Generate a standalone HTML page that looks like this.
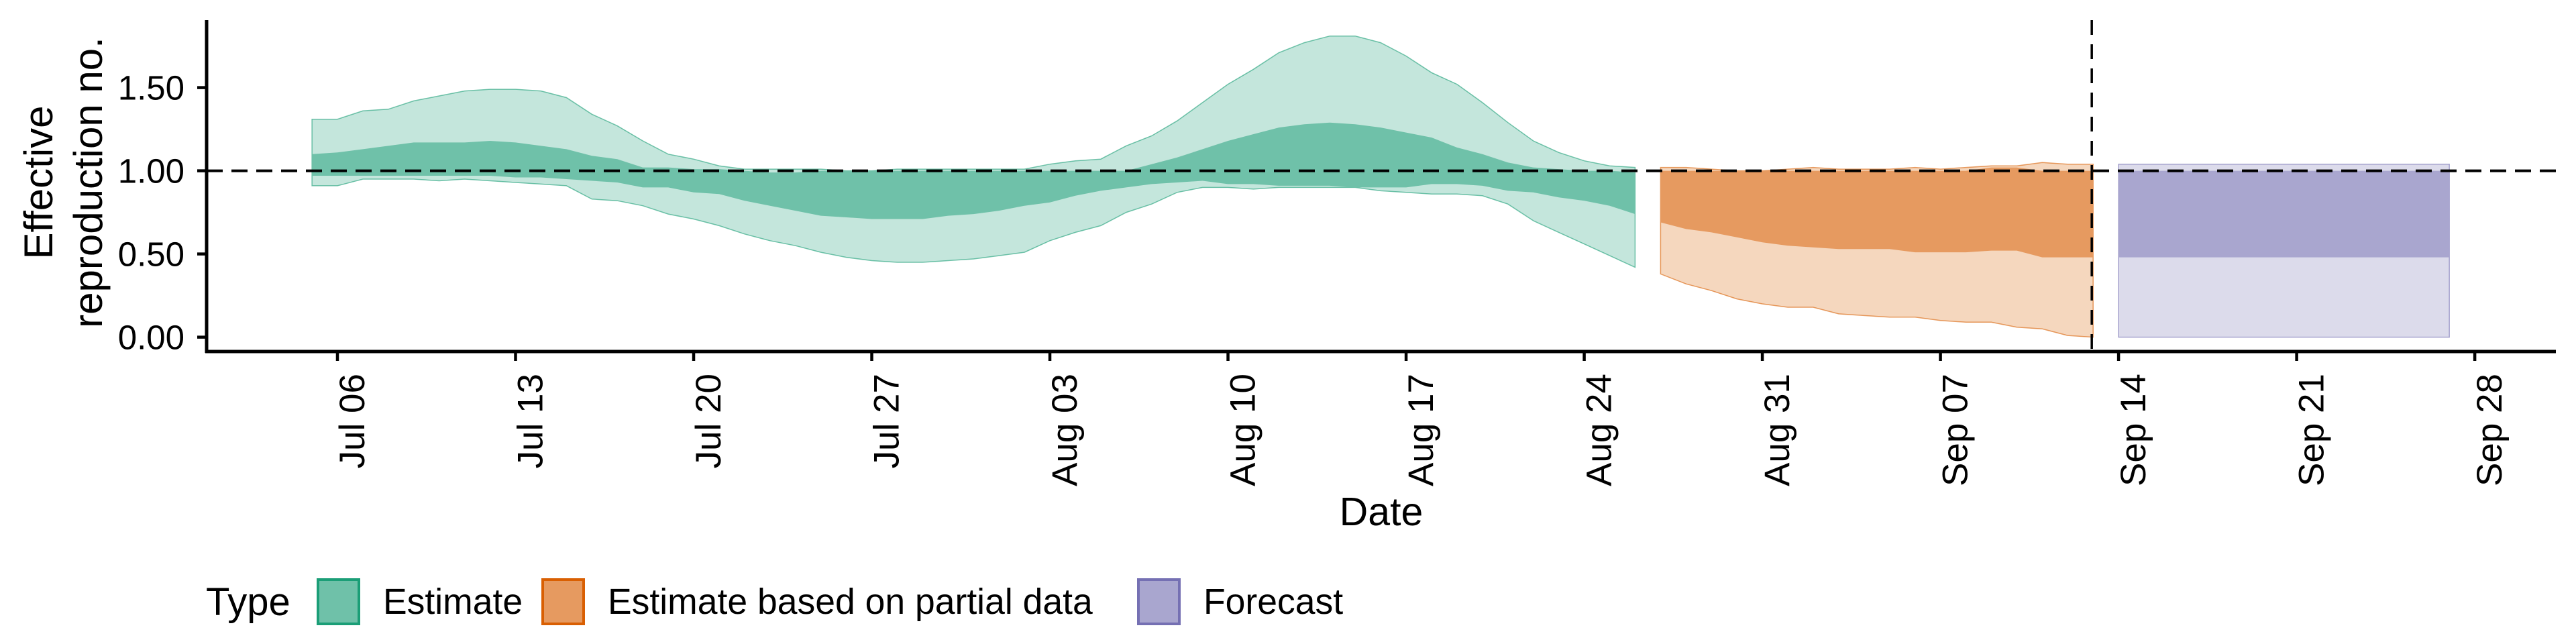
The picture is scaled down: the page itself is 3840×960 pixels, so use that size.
<!DOCTYPE html>
<html><head><meta charset="utf-8">
<style>
html,body{margin:0;padding:0;background:#fff;}
svg{display:block;font-family:"Liberation Sans",Arial,sans-serif;}
</style></head>
<body>
<svg id="chart" width="3840" height="960" viewBox="0 0 3840 960">
<g id="ribbons"></g>
<g id="axes"></g>
<g id="legend"></g>
</svg>
<script>
const estDates = ["07-05","07-06","07-07","07-08","07-09","07-10","07-11","07-12","07-13","07-14","07-15","07-16","07-17","07-18","07-19","07-20","07-21","07-22","07-23","07-24","07-25","07-26","07-27","07-28","07-29","07-30","07-31","08-01","08-02","08-03","08-04","08-05","08-06","08-07","08-08","08-09","08-10","08-11","08-12","08-13","08-14","08-15","08-16","08-17","08-18","08-19","08-20","08-21","08-22","08-23","08-24","08-25","08-26"];
const estUpper90 = [1.31,1.31,1.36,1.37,1.42,1.45,1.48,1.49,1.49,1.48,1.44,1.34,1.27,1.18,1.10,1.07,1.03,1.01,1.01,1.01,1.01,1.00,1.00,1.01,1.01,1.01,1.01,1.01,1.01,1.04,1.06,1.07,1.15,1.21,1.30,1.41,1.52,1.61,1.71,1.77,1.81,1.81,1.77,1.69,1.59,1.52,1.41,1.29,1.18,1.11,1.06,1.03,1.02];
const estUpper50 = [1.10,1.11,1.13,1.15,1.17,1.17,1.17,1.18,1.17,1.15,1.13,1.09,1.07,1.02,1.02,1.01,1.01,1.00,0.99,0.99,1.00,1.00,1.00,1.00,1.00,1.00,1.00,1.00,1.00,1.00,1.00,1.00,1.00,1.04,1.08,1.13,1.18,1.22,1.26,1.28,1.29,1.28,1.26,1.23,1.20,1.14,1.10,1.05,1.02,1.01,1.00,1.00,0.99];
const estLower50 = [0.97,0.97,0.97,0.97,0.97,0.97,0.97,0.97,0.96,0.96,0.95,0.94,0.93,0.90,0.90,0.87,0.86,0.82,0.79,0.76,0.73,0.72,0.71,0.71,0.71,0.73,0.74,0.76,0.79,0.81,0.85,0.88,0.90,0.92,0.93,0.94,0.92,0.92,0.91,0.91,0.91,0.90,0.90,0.90,0.92,0.92,0.91,0.88,0.87,0.84,0.82,0.79,0.74];
const estLower90 = [0.91,0.91,0.95,0.95,0.95,0.94,0.95,0.94,0.93,0.92,0.91,0.83,0.82,0.79,0.74,0.71,0.67,0.62,0.58,0.55,0.51,0.48,0.46,0.45,0.45,0.46,0.47,0.49,0.51,0.58,0.63,0.67,0.75,0.80,0.87,0.90,0.90,0.89,0.90,0.90,0.90,0.90,0.88,0.87,0.86,0.86,0.85,0.80,0.70,0.63,0.56,0.49,0.42];

const partDates = ["08-27","08-28","08-29","08-30","08-31","09-01","09-02","09-03","09-04","09-05","09-06","09-07","09-08","09-09","09-10","09-11","09-12","09-13"];
const partUpper90 = [1.02,1.02,1.01,1.00,1.00,1.01,1.02,1.01,1.01,1.01,1.02,1.01,1.02,1.03,1.03,1.05,1.04,1.04];
const partUpper50 = [1.00,1.00,1.00,1.00,1.00,1.00,1.00,1.00,1.00,1.00,1.00,1.00,1.00,1.02,1.02,1.00,1.00,1.00];
const partLower50 = [0.69,0.65,0.63,0.60,0.57,0.55,0.54,0.53,0.53,0.53,0.51,0.51,0.51,0.52,0.52,0.48,0.48,0.48];
const partLower90 = [0.38,0.32,0.28,0.23,0.20,0.18,0.18,0.14,0.13,0.12,0.12,0.10,0.09,0.09,0.06,0.05,0.01,0.00];

const fcDates = ["09-14","09-15","09-16","09-17","09-18","09-19","09-20","09-21","09-22","09-23","09-24","09-25","09-26","09-27"];
const fcUpper90 = [1.04,1.04,1.04,1.04,1.04,1.04,1.04,1.04,1.04,1.04,1.04,1.04,1.04,1.04];
const fcUpper50 = [1.00,1.00,1.00,1.00,1.00,1.00,1.00,1.00,1.00,1.00,1.00,1.00,1.00,1.00];
const fcLower50 = [0.48,0.48,0.48,0.48,0.48,0.48,0.48,0.48,0.48,0.48,0.48,0.48,0.48,0.48];
const fcLower90 = [0.00,0.00,0.00,0.00,0.00,0.00,0.00,0.00,0.00,0.00,0.00,0.00,0.00,0.00];

const xTickDates = ["07-06","07-13","07-20","07-27","08-03","08-10","08-17","08-24","08-31","09-07","09-14","09-21","09-28"];
const xTickLabels = ["Jul 06","Jul 13","Jul 20","Jul 27","Aug 03","Aug 10","Aug 17","Aug 24","Aug 31","Sep 07","Sep 14","Sep 21","Sep 28"];
const yTicks = [0, 0.5, 1.0, 1.5];
const yTickLabels = ["0.00","0.50","1.00","1.50"];
const refValue = 1.0;
const cutoffDate = "09-13";

const NS = "http://www.w3.org/2000/svg";
const X0 = 503, PX_PER_DAY = 37.93, Y0 = 502.6, PX_PER_UNIT = 248;
const AX_L = 308, AX_R = 3810, AX_T = 30, AX_B = 524;
function dayOf(md){const [m,d]=md.split("-").map(Number);return (Date.UTC(2020,m-1,d)-Date.UTC(2020,6,6))/86400000;}
function xScale(md){return X0 + dayOf(md)*PX_PER_DAY;}
function yScale(v){return Y0 - v*PX_PER_UNIT;}
function mk(tag, attrs, parent){const e=document.createElementNS(NS,tag);for(const k in attrs)e.setAttribute(k,attrs[k]);parent.appendChild(e);return e;}

const rib = document.getElementById("ribbons");
function ribbon(dates, up, lo, fill, stroke, name, step){
  let pts=[];
  if(step){
    const xa = xScale(dates[0]), xb = xScale(dates[dates.length-1]);
    pts.push([xa,yScale(up[0])],[xb,yScale(up[up.length-1])],[xb,yScale(lo[lo.length-1])],[xa,yScale(lo[0])]);
  } else {
    for(let i=0;i<dates.length;i++) pts.push([xScale(dates[i]),yScale(up[i])]);
    for(let i=dates.length-1;i>=0;i--) pts.push([xScale(dates[i]),yScale(lo[i])]);
  }
  const p = mk("polygon",{points:pts.map(p=>p[0].toFixed(1)+","+p[1].toFixed(1)).join(" "),fill:fill,stroke:stroke,"stroke-width":1.5,"stroke-opacity":0.6},rib);
  
  
}
ribbon(estDates, estUpper90, estLower90, "#c4e6dc", "#1b9e77", "estimate-90-ribbon");
ribbon(estDates, estUpper50, estLower50, "#6fc1a9", "none", "estimate-50-ribbon");
ribbon(partDates, partUpper90, partLower90, "#f5d7be", "#d95f02", "partial-90-ribbon");
ribbon(partDates, partUpper50, partLower50, "#e69a60", "none", "partial-50-ribbon");
ribbon(fcDates, fcUpper90, fcLower90, "#dcdbeb", "#7570b3", "forecast-90-ribbon", true);
ribbon(fcDates, fcUpper50, fcLower50, "#a9a6cf", "none", "forecast-50-ribbon", true);

const ax = document.getElementById("axes");
let e;
e = mk("line",{x1:AX_L,x2:AX_R,y1:yScale(refValue),y2:yScale(refValue),stroke:"#000","stroke-width":4,"stroke-dasharray":"24 13"},ax);


e = mk("line",{x1:xScale(cutoffDate)-2,x2:xScale(cutoffDate)-2,y1:AX_T,y2:AX_B,stroke:"#000","stroke-width":3.5,"stroke-dasharray":"22 14"},ax);


e = mk("line",{x1:AX_L,x2:AX_L,y1:AX_T,y2:AX_B+2,stroke:"#000","stroke-width":5},ax);


e = mk("line",{x1:AX_L-2,x2:AX_R,y1:AX_B,y2:AX_B,stroke:"#000","stroke-width":5},ax);


yTicks.forEach((v,i)=>{
  const y=yScale(v);
  const t=mk("line",{x1:AX_L-14,x2:AX_L,y1:y,y2:y,stroke:"#000","stroke-width":4.5},ax);
  
  
  const l=mk("text",{x:275,y:y+18,"text-anchor":"end","font-size":51,fill:"#000"},ax);
  l.textContent=yTickLabels[i];
  
  
});
xTickDates.forEach((d,i)=>{
  const x=xScale(d);
  const t=mk("line",{x1:x,x2:x,y1:AX_B,y2:AX_B+14,stroke:"#000","stroke-width":4.5},ax);
  
  
  const l=mk("text",{x:0,y:0,"text-anchor":"end","font-size":53,fill:"#000",transform:`translate(${x+40},${AX_B+33}) rotate(-90)`},ax);
  l.textContent=xTickLabels[i];
  
  
});
e = mk("text",{x:(AX_L+AX_R)/2,y:783,"text-anchor":"middle","font-size":59,fill:"#000"},ax);
e.textContent="Date";


e = mk("text",{x:0,y:0,"text-anchor":"middle","font-size":60,fill:"#000",transform:"translate(78,272) rotate(-90)"},ax);
e.textContent="Effective";


e = mk("text",{x:0,y:0,"text-anchor":"middle","font-size":60,fill:"#000",transform:"translate(152,272) rotate(-90)"},ax);
e.textContent="reproduction no.";



const lg = document.getElementById("legend");
e = mk("text",{x:307,y:917,"font-size":58,fill:"#000"},lg);
e.textContent="Type";


const legendNames = ["Estimate","Estimate based on partial data","Forecast"];
const legendFill = ["#6fc1a9","#e69a60","#a9a6cf"];
const legendStroke = ["#1b9e77","#d95f02","#7570b3"];
const legendKeyX = [472,807,1695];
legendNames.forEach((n,i)=>{
  const r=mk("rect",{x:legendKeyX[i]+2,y:864,width:61,height:66,fill:legendFill[i],stroke:legendStroke[i],"stroke-width":4},lg);
  
  
  const t=mk("text",{x:legendKeyX[i]+99,y:915,"font-size":53.5,fill:"#000"},lg);
  t.textContent=n;
  
  
});
</script>
</body></html>
